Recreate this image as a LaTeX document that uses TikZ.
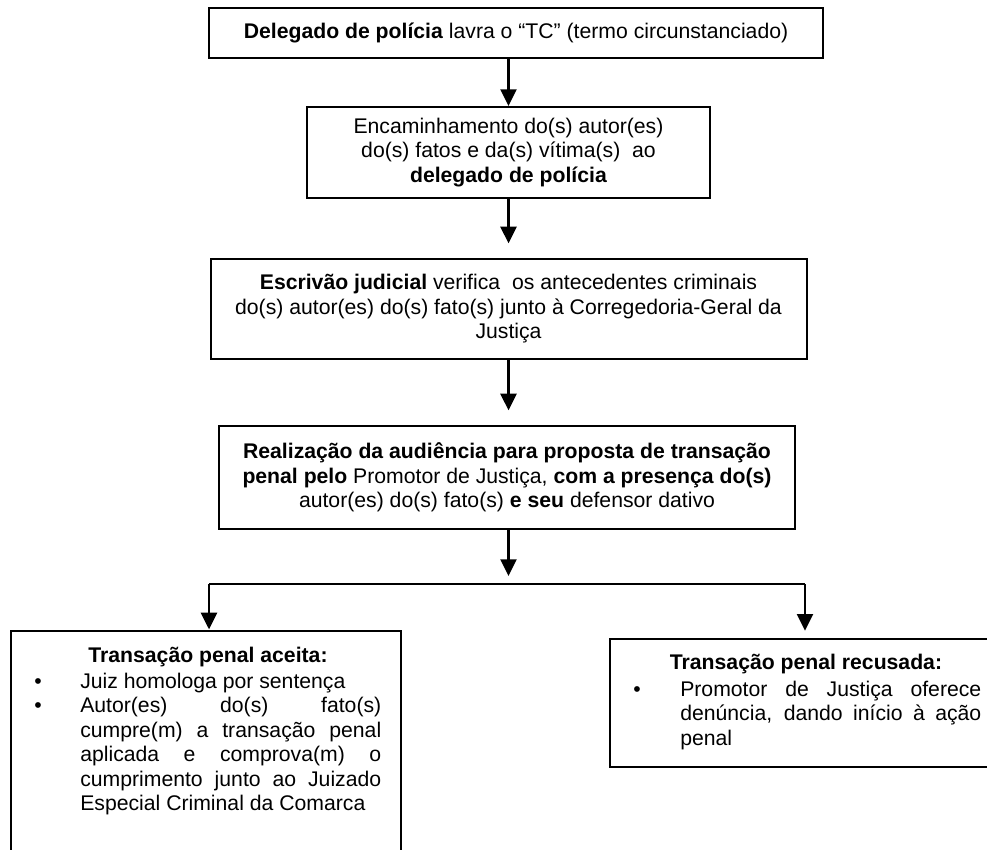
\documentclass[tikz,border=0pt]{standalone}
\usepackage{fontspec}
\setmainfont{Liberation Sans}
\usetikzlibrary{arrows.meta}
\begin{document}
\begin{tikzpicture}[x=0.75pt,y=-0.75pt,
  font=\fontsize{15.9}{18.4}\selectfont,
  box/.style={draw=black,line width=1.5pt,inner sep=0pt,align=center},
  arr/.style={line width=1.7pt,-{Triangle[length=12.5pt,width=12pt]}},
  ln/.style={line width=1.7pt},
  txt/.style={inner sep=0pt},
  para/.style={inner sep=0pt,text width=225.75pt,align=justify,anchor=north west}]
\useasboundingbox (0,0) rectangle (987,849);
% boxes
\node[box,minimum width=460.5pt,minimum height=37.5pt] (b1) at (516,33)
  {\textbf{Delegado de polícia} lavra o “TC” (termo circunstanciado)};
\node[box,minimum width=302.25pt,minimum height=68.25pt] (b2) at (508.5,152.5)
  {Encaminhamento do(s) autor(es)\\ do(s) fatos e da(s) vítima(s)~ ao\\ \textbf{delegado de polícia}};
\node[box,minimum width=447pt,minimum height=75pt] (b3) at (508.5,309)
  {\textbf{Escrivão judicial} verifica~ os antecedentes criminais\\ do(s) autor(es) do(s) fato(s) junto à Corregedoria-Geral da\\ Justiça};
\node[box,minimum width=432pt,minimum height=77.25pt] (b4) at (507,477.5)
  {\textbf{Realização da audiência para proposta de transação}\\ \textbf{penal pelo} Promotor de Justiça, \textbf{com a presença do(s)}\\ autor(es) do(s) fato(s) \textbf{e seu} defensor dativo};
\node[box,minimum width=292.5pt,minimum height=186.75pt] (b5) at (206,755.5) {};
\node[box,minimum width=292.5pt,minimum height=96pt] (b6) at (805,703) {};
% left box content
\node[txt,anchor=base] (t5) at (208,662) {\textbf{Transação penal aceita:}};
\node[txt,anchor=base] (u1) at (38,688) {•};
\node[txt,anchor=base west] (i1) at (80,688) {Juiz homologa por sentença};
\node[txt,anchor=base] (u2) at (38,712.5) {•};
\node[para] (i2) at (80,695.3) {\strut Autor(es) do(s) fato(s)\linebreak cumpre(m) a transação penal\linebreak aplicada e comprova(m) o\linebreak cumprimento junto ao Juizado\linebreak Especial Criminal da Comarca};
% right box content
\node[txt,anchor=base] (t6) at (806,669) {\textbf{Transação penal recusada:}};
\node[txt,anchor=base] (u3) at (637,696) {•};
\node[para] (i3) at (680,678.8) {\strut Promotor de Justiça oferece\linebreak denúncia, dando início à ação\linebreak penal};
% connectors
\coordinate (split) at (508.5,584);
\coordinate (sl) at (209,584);
\coordinate (sr) at (805,584);
\draw[arr] (b1.south -| b2.north) -- (b2.north);
\draw[arr,shorten >=11pt] (b2.south) -- (b2.south |- b3.north);
\draw[arr,shorten >=11pt] (b3.south -| b2.south) -- (b2.south |- b4.north);
\draw[arr,shorten >=6pt] (b4.south -| split) -- (split);
\draw[ln] (sl) -- (sr);
\draw[arr,shorten >=0.5pt] (sl) -- (sl |- b5.north);
\draw[arr,shorten >=5.5pt] (sr) -- (sr |- b6.north);
\end{tikzpicture}
\end{document}
